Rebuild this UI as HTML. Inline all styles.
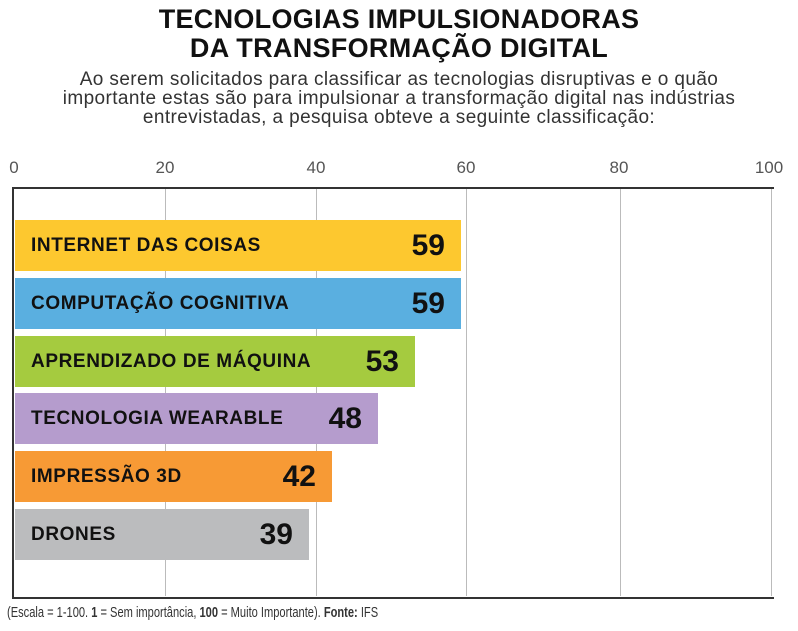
<!DOCTYPE html>
<html><head><meta charset="utf-8"><style>
body{margin:0;width:798px;height:631px;background:#fff;font-family:"Liberation Sans",sans-serif;position:relative;overflow:hidden}
.t{position:absolute;left:0;width:798px;text-align:center;font-weight:bold;font-size:27px;color:#111;letter-spacing:0.3px}
.s{position:absolute;left:0;width:798px;text-align:center;font-size:19px;color:#333;line-height:19px;letter-spacing:0.4px}
.ax{position:absolute;top:158px;font-size:17px;color:#555;transform:translateX(-50%)}
.g{position:absolute;top:188px;height:408px;width:1px;background:#bbb}
.bar{position:absolute;left:15px;height:51px}
.bar span{position:absolute;left:16px;top:15px;font-weight:bold;font-size:19px;letter-spacing:0.6px;color:#111}
.bar b{position:absolute;right:16px;top:9px;font-size:30px;color:#111}
</style></head><body>
<div class="t" style="top:4px">TECNOLOGIAS IMPULSIONADORAS</div>
<div class="t" style="top:33px">DA TRANSFORMAÇÃO DIGITAL</div>
<div class="s" style="top:70px">Ao serem solicitados para classificar as tecnologias disruptivas e o quão<br>importante estas são para impulsionar a transformação digital nas indústrias<br>entrevistadas, a pesquisa obteve a seguinte classificação:</div>
<div class="ax" style="left:14px">0</div>
<div class="ax" style="left:165px">20</div>
<div class="ax" style="left:316px">40</div>
<div class="ax" style="left:466px">60</div>
<div class="ax" style="left:619px">80</div>
<div class="ax" style="left:769px">100</div>
<div class="g" style="left:165px"></div>
<div class="g" style="left:316px"></div>
<div class="g" style="left:466px"></div>
<div class="g" style="left:620px"></div>
<div class="g" style="left:771px"></div>
<div style="position:absolute;left:12px;top:187px;width:760px;height:408px;border-left:2px solid #333;border-top:2px solid #333;border-bottom:2px solid #333"></div>
<div class="bar" style="top:220px;width:446px;background:#fdc82f"><span>INTERNET DAS COISAS</span><b>59</b></div>
<div class="bar" style="top:278px;width:446px;background:#5aafe0"><span>COMPUTAÇÃO COGNITIVA</span><b>59</b></div>
<div class="bar" style="top:336px;width:400px;background:#a5cb3f"><span>APRENDIZADO DE MÁQUINA</span><b>53</b></div>
<div class="bar" style="top:393px;width:363px;background:#b59ccd"><span>TECNOLOGIA WEARABLE</span><b>48</b></div>
<div class="bar" style="top:451px;width:317px;background:#f79a35"><span>IMPRESSÃO 3D</span><b>42</b></div>
<div class="bar" style="top:509px;width:294px;background:#bbbcbe"><span>DRONES</span><b>39</b></div>
<div style="position:absolute;left:7px;top:604px;font-size:15px;color:#333;white-space:nowrap;transform:scaleX(0.74);transform-origin:left top">(Escala = 1-100. <b>1</b> = Sem importância, <b>100</b> = Muito Importante). <b>Fonte:</b> IFS</div>
</body></html>
